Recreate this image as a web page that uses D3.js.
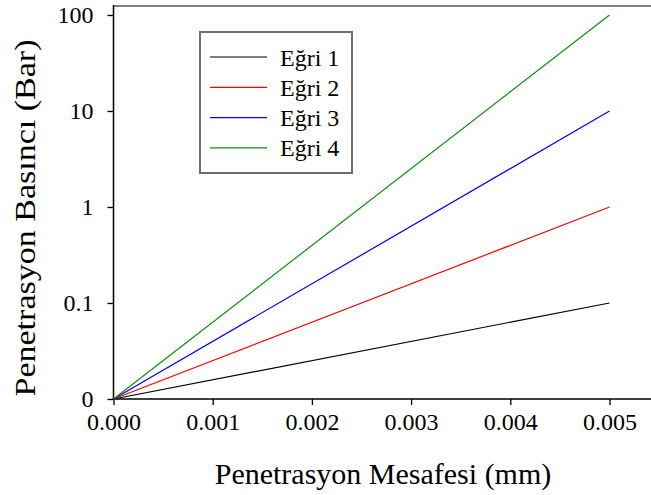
<!DOCTYPE html>
<html>
<head>
<meta charset="utf-8">
<script src="https://cdn.jsdelivr.net/npm/d3@7"></script>
<style>
  html, body { margin: 0; padding: 0; background: #fff; }
  svg text { font-family: "Liberation Serif", "Times New Roman", Times, serif !important; }
</style>
</head>
<body>
<svg id="chart" width="651" height="495"></svg>
<script>
// Penetration distance (mm) for each curve's end points
const distances = [0, 0.005];
const curveNames = ["Eğri 1", "Eğri 2", "Eğri 3", "Eğri 4"];
const curveColors = ["#000000", "#ff0000", "#0000ff", "#0a8f0a"];
const egri1 = [0, 0.1];
const egri2 = [0, 1];
const egri3 = [0, 10];
const egri4 = [0, 100];
const xTicks = [0, 0.001, 0.002, 0.003, 0.004, 0.005];
const yTicks = [0, 0.1, 1, 10, 100];
const xTitle = "Penetrasyon Mesafesi (mm)";
const yTitle = "Penetrasyon Basıncı (Bar)";

const serif = "'Liberation Serif', 'Times New Roman', Times, serif";

const series = [egri1, egri2, egri3, egri4].map((vals, i) => ({
  name: curveNames[i],
  color: curveColors[i],
  points: distances.map((d, j) => ({ x: d, y: vals[j] }))
}));

const svg = d3.select("#chart");
const plot = { left: 113.5, top: 6, bottom: 399, right: 652 };

const x = d3.scaleLinear().domain([0, 0.005]).range([113.5, 609.5]);
// Decade-style axis: each labelled value sits one equal step above the previous
const y = d3.scaleLinear().domain(yTicks).range([399, 303, 207, 111, 15]);

// Plot frame: grey top edge
svg.append("line")
  .attr("x1", plot.left).attr("x2", plot.right)
  .attr("y1", plot.top).attr("y2", plot.top)
  .attr("stroke", "#808080").attr("stroke-width", 2);

// X axis
const xAxis = svg.append("g")
  .attr("transform", `translate(0,${plot.bottom})`)
  .call(d3.axisBottom(x).tickValues(xTicks).tickFormat(d3.format(".3f")).tickSizeOuter(0).tickSize(6).tickPadding(8));
xAxis.attr("font-family", null).attr("font-size", null);
xAxis.select(".domain").remove();
xAxis.append("line")
  .attr("x1", plot.left - 1).attr("x2", plot.right)
  .attr("stroke", "#000").attr("stroke-width", 1.5);
xAxis.selectAll(".tick line").attr("stroke", "#000").attr("stroke-width", 1.3);
xAxis.selectAll(".tick text")
  .attr("fill", "#000")
  .style("font-size", "24px")
  .style("font-family", serif);

// Y axis
const yAxis = svg.append("g")
  .attr("transform", `translate(${plot.left},0)`)
  .call(d3.axisLeft(y).tickValues(yTicks).tickFormat(d => String(d)).tickSizeOuter(0).tickSize(6).tickPadding(14));
yAxis.attr("font-family", null).attr("font-size", null);
yAxis.select(".domain").remove();
yAxis.append("line")
  .attr("y1", plot.top - 1).attr("y2", plot.bottom + 0.75)
  .attr("stroke", "#000").attr("stroke-width", 1.5);
yAxis.selectAll(".tick line").attr("stroke", "#000").attr("stroke-width", 1.3);
yAxis.selectAll(".tick text")
  .attr("fill", "#000")
  .style("font-size", "24px")
  .style("font-family", serif);

// Curves
const line = d3.line().x(d => x(d.x)).y(d => y(d.y));
svg.append("g").selectAll("path")
  .data(series)
  .join("path")
  .attr("d", d => line(d.points))
  .attr("fill", "none")
  .attr("stroke", d => d.color)
  .attr("stroke-width", 1.2);

// Axis titles
svg.append("text")
  .attr("x", 383).attr("y", 484)
  .attr("text-anchor", "middle")
  .style("font-size", "30px")
  .style("font-family", serif)
  .attr("fill", "#000")
  .text(xTitle);

svg.append("text")
  .attr("transform", "translate(35,218) rotate(-90)")
  .attr("text-anchor", "middle")
  .style("font-size", "30px")
  .style("font-family", serif)
  .attr("textLength", 357)
  .attr("lengthAdjust", "spacingAndGlyphs")
  .attr("fill", "#000")
  .text(yTitle);

// Legend
const legend = svg.append("g");
legend.append("rect")
  .attr("x", 200).attr("y", 32)
  .attr("width", 152).attr("height", 141)
  .attr("fill", "#fff")
  .attr("stroke", "#6e6e6e").attr("stroke-width", 2);
const rows = legend.selectAll("g.row")
  .data(series)
  .join("g")
  .attr("class", "row")
  .attr("transform", (d, i) => `translate(0,${57 + i * 30.3})`);
rows.append("line")
  .attr("x1", 210).attr("x2", 267)
  .attr("stroke", d => d.color).attr("stroke-width", 1.2);
rows.append("text")
  .attr("x", 280).attr("y", 8.5)
  .style("font-size", "24px")
  .style("font-family", serif)
  .attr("fill", "#000")
  .text(d => d.name);
</script>
</body>
</html>
